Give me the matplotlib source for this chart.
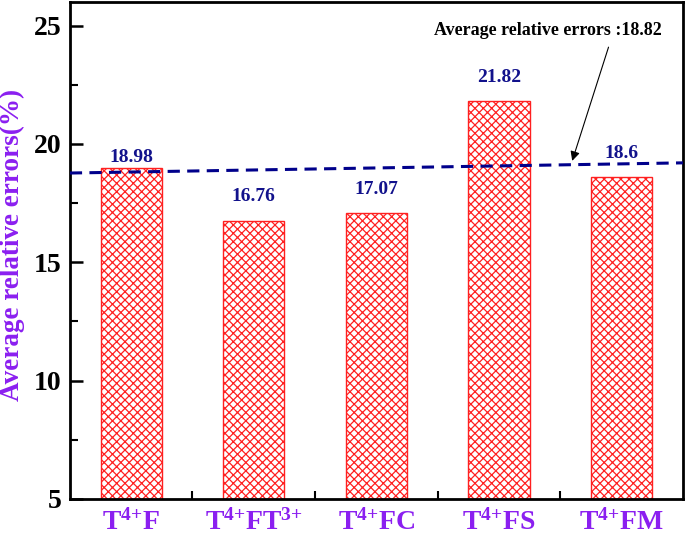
import numpy as np
import matplotlib.pyplot as plt
from matplotlib.ticker import MultipleLocator

# Данные
categories = [r'$\mathbf{T^{4\text{+}}F}$', r'$\mathbf{T^{4\text{+}}FT^{3\text{+}}}$',
              r'$\mathbf{T^{4\text{+}}FC}$', r'$\mathbf{T^{4\text{+}}FS}$',
              r'$\mathbf{T^{4\text{+}}FM}$']
errors = [18.98, 16.76, 17.07, 21.82, 18.6]
avg_error = 18.82
avg_line_ends = [18.77, 19.2]   # линия среднего слегка наклонена
label_dy = [0.46, 1.0, 1.0, 1.0, 1.0]

plt.rcParams['font.family'] = 'Liberation Serif'
plt.rcParams['font.weight'] = 'bold'
plt.rcParams['mathtext.fontset'] = 'custom'
plt.rcParams['mathtext.rm'] = 'Liberation Serif:bold'
plt.rcParams['mathtext.bf'] = 'Liberation Serif:bold'
plt.rcParams['hatch.color'] = '#ff2020'
plt.rcParams['hatch.linewidth'] = 0.9

purple = '#8b1ff0'
navy = '#12128c'

fig = plt.figure(figsize=(6.85, 5.38), dpi=100)
ax = fig.add_axes([0.102, 0.0725, 0.895, 0.924])

x = np.arange(1, len(errors) + 1)
ax.bar(x, errors, width=0.5, bottom=0, color='white', edgecolor='#ff2020',
       linewidth=1.0, hatch='xxxx', zorder=2)

for xi, v, dy in zip(x, errors, label_dy):
    ax.text(xi, v + dy, f'{v:g}', ha='center', va='center', color=navy,
            fontsize=14, fontweight='bold', zorder=4)

# Линия средней ошибки
ax.plot([0.5, 5.5], avg_line_ends, color='#00008b', lw=2.2, dashes=(4, 2.4), zorder=3)

tip_x = 4.59
tip_y = np.interp(tip_x, [0.5, 5.5], avg_line_ends)
ax.annotate('', xy=(tip_x, tip_y + 0.05), xytext=(4.90, 24.2),
            arrowprops=dict(arrowstyle='-|>', color='k', lw=0.8, mutation_scale=14), zorder=5)
ax.text(4.40, 24.8, f'Average relative errors :{avg_error}', ha='center', va='center',
        fontsize=13, fontweight='bold', color='k')

ax.set_xlim(0.5, 5.5)
ax.set_ylim(5, 26)
ax.set_xticks(x)
ax.set_xticklabels(categories, color=purple, fontsize=20)
ax.set_xticks(x[:-1] + 0.5, minor=True)
ax.yaxis.set_major_locator(MultipleLocator(5))
ax.yaxis.set_minor_locator(MultipleLocator(2.5))
ax.tick_params(axis='both', which='major', direction='in', length=9, width=1.8)
ax.tick_params(axis='both', which='minor', direction='in', length=6, width=1.5)
ax.tick_params(axis='y', labelsize=20, pad=6)
ax.tick_params(axis='x', pad=7)
for lab in ax.get_yticklabels():
    lab.set_fontweight('bold')

fig.text(12.5 / 685, 1 - 245 / 538, 'Average relative errors(%)', rotation=90,
         ha='center', va='center', color=purple, fontsize=19.5, fontweight='bold')

for s in ax.spines.values():
    s.set_linewidth(2)

plt.savefig('out.png', dpi=100)
